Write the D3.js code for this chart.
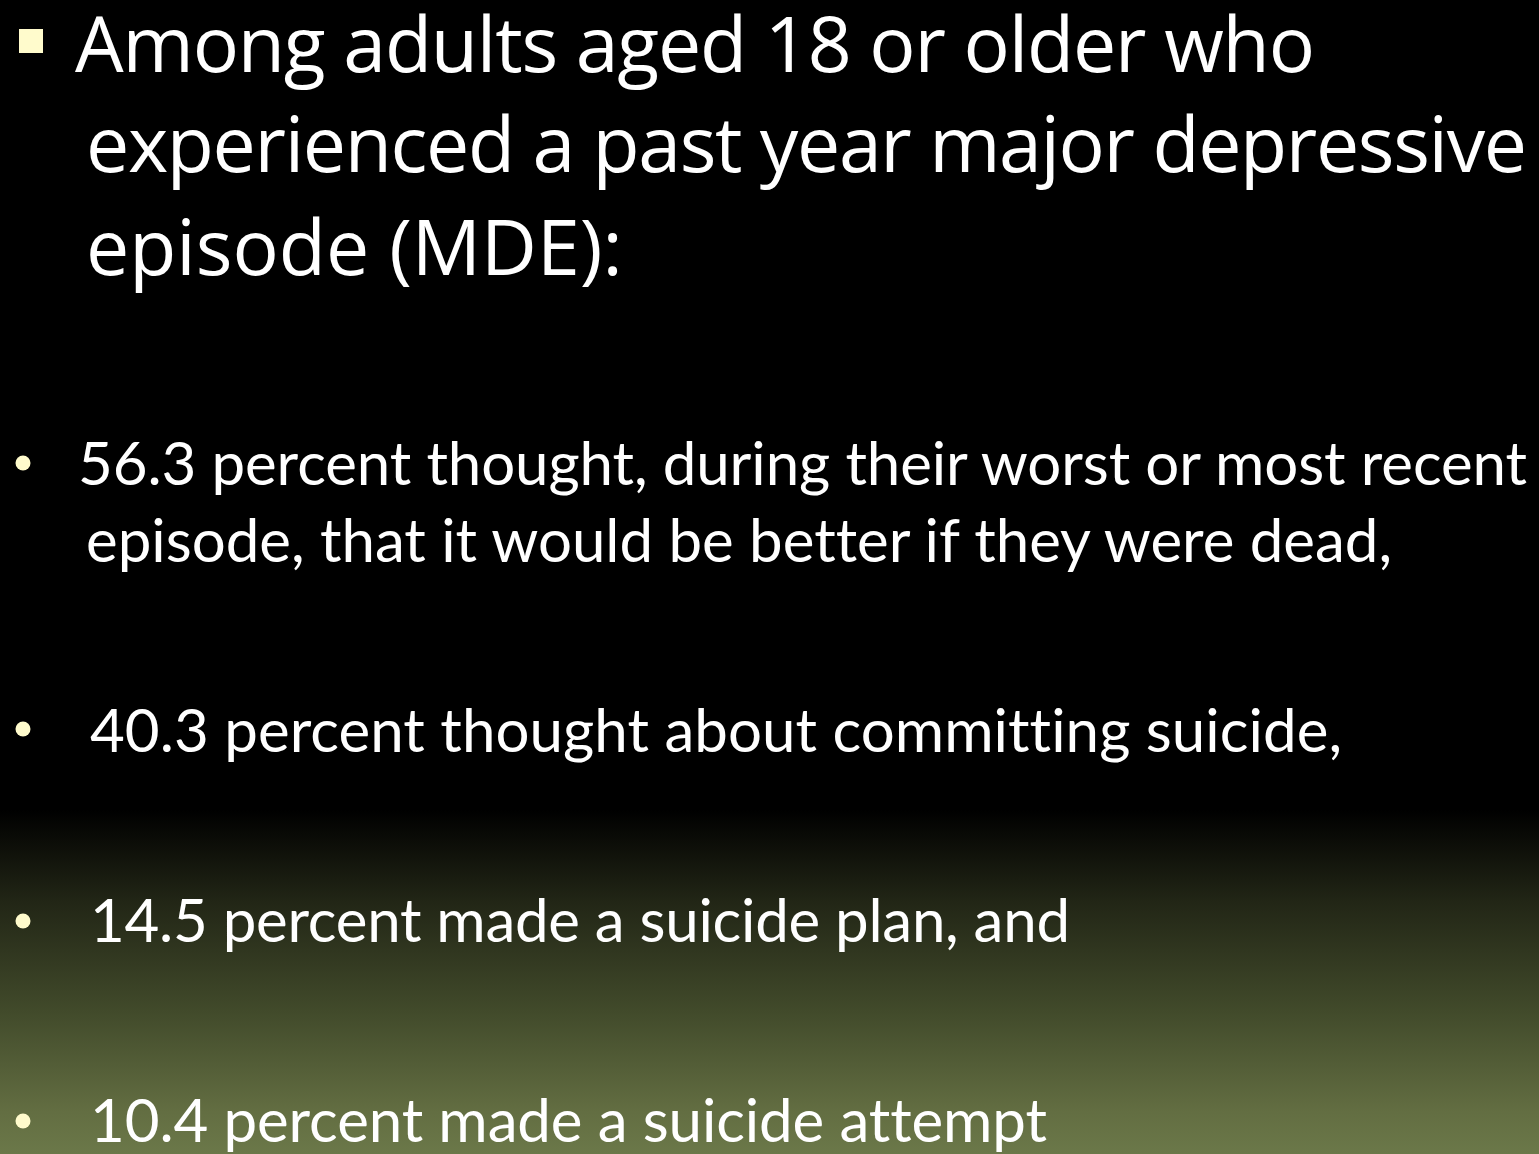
<!DOCTYPE html>
<html><head><meta charset="utf-8">
<script src="https://cdn.jsdelivr.net/npm/d3@7/dist/d3.min.js"></script>
<style>html,body{margin:0;padding:0;background:#000;overflow:hidden} text{font-variant-ligatures:none;font-feature-settings:"liga" 0,"clig" 0}</style>
</head><body>
<script>
const titleLines = ["Among adults aged 18 or older who", "experienced a past year major depressive", "episode (MDE):"];
const bulletLines = [
  ["56.3 percent thought, during their worst or most recent", "episode, that it would be better if they were dead,"],
  ["40.3 percent thought about committing suicide,"],
  ["14.5 percent made a suicide plan, and"],
  ["10.4 percent made a suicide attempt"]
];
const W = 1539, H = 1154;
const svg = d3.select("body").append("svg").attr("width", W).attr("height", H);
const defs = svg.append("defs");
const g = defs.append("linearGradient").attr("id","bg").attr("x1",0).attr("y1",0).attr("x2",0).attr("y2",1);
[[0,"#000000"],[0.702,"#000000"],[0.782,"#222616"],[0.878,"#424b2b"],[0.964,"#636e42"],[1,"#6b7849"]].forEach(([o,c])=>g.append("stop").attr("offset",o).attr("stop-color",c));
svg.append("rect").attr("width",W).attr("height",H).attr("fill","url(#bg)");

const cream = "#fffbcc";
// title
svg.append("rect").attr("x",19).attr("y",29).attr("width",24).attr("height",24).attr("fill",cream);
const tPos = [[75,72,1240],[86,172,1441],[86,275,null]];
titleLines.forEach((t,i)=>{
  const el = svg.append("text").attr("x",tPos[i][0]).attr("y",tPos[i][1])
    .attr("font-family","'Open Sans', 'Noto Sans', sans-serif").attr("font-size",77)
    .attr("fill","#ffffff").text(t);
  if (tPos[i][2]) el.attr("textLength",tPos[i][2]).attr("lengthAdjust","spacing");
});
// body
const bPos = [
  {dot:463, lines:[[78,485,1449],[86,562,1306]]},
  {dot:729, lines:[[90,752,1252]]},
  {dot:921, lines:[[90,942,980]]},
  {dot:1121, lines:[[90,1142,957]]}
];
bulletLines.forEach((lines,i)=>{
  svg.append("circle").attr("cx",23).attr("cy",bPos[i].dot).attr("r",7.5).attr("fill",cream);
  lines.forEach((t,j)=>{
    const p = bPos[i].lines[j];
    svg.append("text").attr("x",p[0]).attr("y",p[1])
      .attr("font-family","Lato, 'Open Sans', sans-serif").attr("font-size",60)
      .attr("fill","#ffffff").attr("textLength",p[2]).attr("lengthAdjust","spacing").text(t);
  });
});
</script>
</body></html>
